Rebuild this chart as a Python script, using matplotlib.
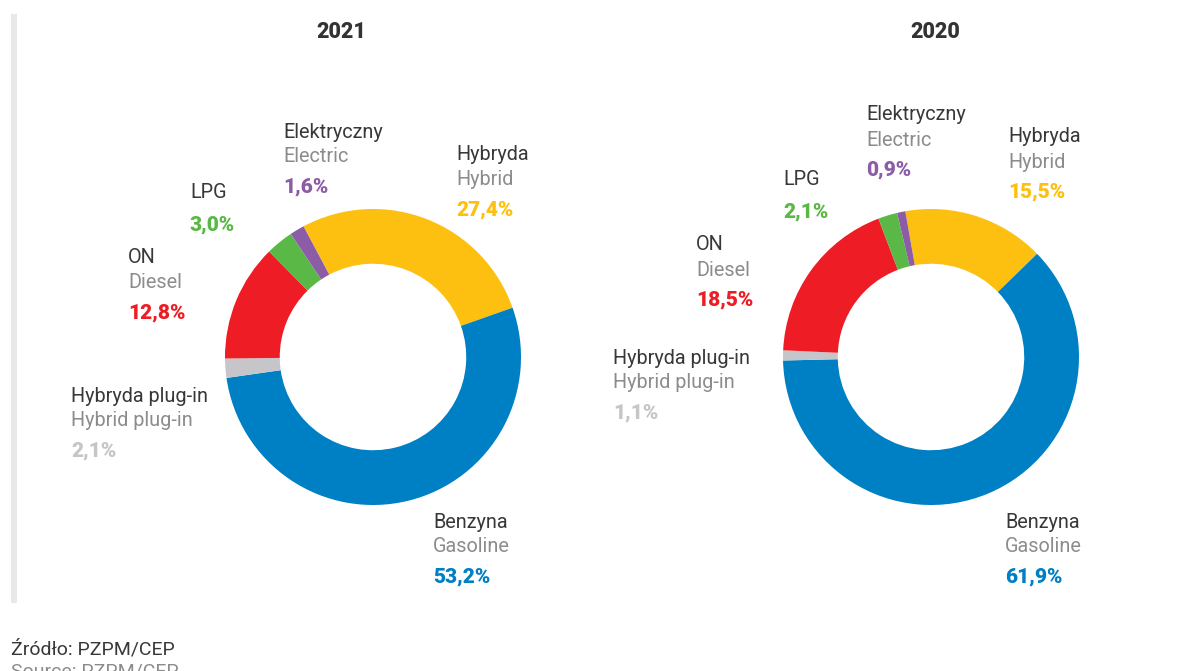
import matplotlib.pyplot as plt

plt.rcParams['font.family'] = ['Roboto', 'DejaVu Sans']

W, H = 1177, 671

# data, clockwise from the top
labels_pl = ['Hybryda', 'Benzyna', 'Hybryda plug-in', 'ON', 'LPG', 'Elektryczny']
labels_en = ['Hybrid', 'Gasoline', 'Hybrid plug-in', 'Diesel', '', 'Electric']
share_2021 = [27.4, 53.2, 2.1, 12.8, 3.0, 1.6]
share_2020 = [15.5, 61.9, 1.1, 18.5, 2.1, 0.9]
colors = ['#FDC010', '#0080C4', '#C6C6CA', '#EE1D25', '#5AB946', '#8C5DA6']

# label anchor positions in pixels (x, y of first line) per chart
pos_2021 = [(456, 155), (433, 522), (71, 396), (128, 258), (190, 193), (283, 132)]
pos_2020 = [(1008, 137), (1005, 522), (613, 358), (696, 245), (783, 180), (866, 115)]


def fx(x):
    return x / W


def fy(y):
    return 1 - y / H


def donut(fig, cx, cy, r, values, start):
    ax = fig.add_axes([fx(cx - r), fy(cy + r), 2 * r / W, 2 * r / H])
    ax.pie(values, colors=colors, startangle=start, counterclock=False,
           radius=1, wedgeprops=dict(width=0.37, linewidth=0))
    ax.set_xlim(-1, 1)
    ax.set_ylim(-1, 1)
    ax.set_aspect('auto')
    ax.axis('off')


def labels(fig, values, positions):
    for i, (x, y) in enumerate(positions):
        fig.text(fx(x), fy(y), labels_pl[i], fontsize=14.3, color='#383838',
                 ha='left', va='center')
        if labels_en[i]:
            fig.text(fx(x), fy(y + 25), labels_en[i], fontsize=14.3, color='#8C8C8C',
                     ha='left', va='center')
            yp = y + 55
        else:
            yp = y + 32
        fig.text(fx(x), fy(yp), ('%.1f%%' % values[i]).replace('.', ','),
                 fontsize=15, color=colors[i], fontweight='heavy',
                 ha='left', va='center')


fig = plt.figure(figsize=(W / 100, H / 100), dpi=100)

# grey bar on the left
bar = fig.add_axes([fx(11), fy(603), 6 / W, (603 - 14) / H])
bar.set_facecolor('#E8E8EA')
bar.set_xticks([])
bar.set_yticks([])
for s in bar.spines.values():
    s.set_visible(False)

donut(fig, 373, 357, 148, share_2021, 118)
donut(fig, 931, 357, 148, share_2020, 100)

fig.text(fx(341), fy(32), '2021', fontsize=15.5, fontweight='heavy', color='#333333',
         ha='center', va='center')
fig.text(fx(935), fy(32), '2020', fontsize=15.5, fontweight='heavy', color='#333333',
         ha='center', va='center')

labels(fig, share_2021, pos_2021)
labels(fig, share_2020, pos_2020)

fig.text(fx(11), fy(649), 'Źródło: PZPM/CEP', fontsize=14, color='#383838',
         ha='left', va='center')
fig.text(fx(11), fy(672), 'Source: PZPM/CEP', fontsize=14, color='#8C8C8C',
         ha='left', va='center')

fig.savefig('out.png', dpi=100)
